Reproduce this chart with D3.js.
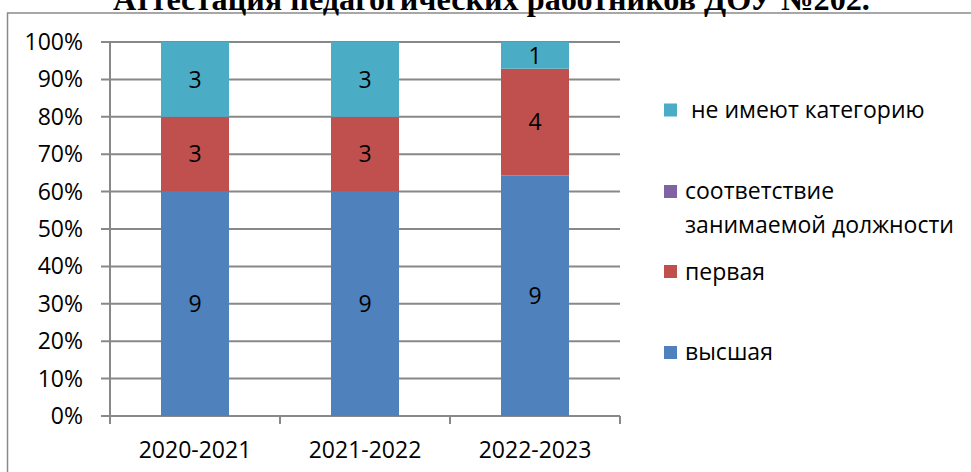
<!DOCTYPE html>
<html><head><meta charset="utf-8">
<script src="https://cdn.jsdelivr.net/npm/d3@7"></script>
<style>html,body{margin:0;padding:0;background:#fff;}svg{display:block;}</style>
</head><body>
<svg id="chart" width="971" height="472"></svg>
<script>
const title = "Аттестация педагогических работников ДОУ №202.";
const categories = ["2020-2021", "2021-2022", "2022-2023"];
const seriesNames = ["высшая", "первая", "соответствие занимаемой должности", "не имеют категорию"];
const vysshaya = [9, 9, 9];
const pervaya = [3, 3, 4];
const sootvetstvie = [0, 0, 0];
const neImeyut = [3, 3, 1];
const yTicks = [0, 0.1, 0.2, 0.3, 0.4, 0.5, 0.6, 0.7, 0.8, 0.9, 1];
const colors = ["#4F81BD", "#C0504D", "#8064A2", "#4BACC6"];

const rows = categories.map((c, i) => ({
  cat: c, s0: vysshaya[i], s1: pervaya[i], s2: sootvetstvie[i], s3: neImeyut[i]
}));
const keys = ["s0", "s1", "s2", "s3"];
const stacked = d3.stack().keys(keys).offset(d3.stackOffsetExpand)(rows);

const svg = d3.select("#chart");
const font = "'Open Sans', sans-serif";
const gridColor = "#888888";

// chart border
svg.append("rect").attr("x", 7.5).attr("y", 13).attr("width", 1000).attr("height", 500)
  .attr("fill", "none").attr("stroke", "#8a8a8a").attr("stroke-width", 1.5);

// title (cut at top, as in the reference)
const t = svg.append("text").attr("x", 491.5).attr("y", 10)
  .attr("text-anchor", "middle").attr("font-family", "'Liberation Serif', 'Times New Roman', serif")
  .attr("font-weight", "bold").attr("font-size", 30).attr("fill", "#000").text(title);
const w = t.node().getComputedTextLength();
t.attr("font-size", 30 * 757 / w);

const x = d3.scaleBand().domain(categories).range([110, 620]).padding(0);
const y = d3.scaleLinear().domain([0, 1]).range([416, 42]);
const barW = x.bandwidth() * 0.4;

// gridlines
svg.append("g").selectAll("line").data(yTicks).join("line")
  .attr("x1", 101).attr("x2", 620)
  .attr("y1", d => y(d)).attr("y2", d => y(d))
  .attr("stroke", gridColor).attr("stroke-width", 2);

// y axis line
svg.append("line").attr("x1", 110).attr("x2", 110).attr("y1", y(1)).attr("y2", 424)
  .attr("stroke", gridColor).attr("stroke-width", 2);

// x ticks
const xb = categories.map(c => x(c)).concat([x(categories[categories.length - 1]) + x.bandwidth()]);
svg.append("g").selectAll("line").data(xb.slice(1)).join("line")
  .attr("x1", d => d).attr("x2", d => d).attr("y1", 416).attr("y2", 424)
  .attr("stroke", gridColor).attr("stroke-width", 2);

// y labels
svg.append("g").selectAll("text").data(yTicks).join("text")
  .attr("x", 83).attr("y", d => y(d)).attr("dy", "0.35em")
  .attr("text-anchor", "end").attr("font-family", font).attr("font-size", 23).attr("fill", "#000")
  .text(d => Math.round(d * 100) + "%");

// x labels
svg.append("g").selectAll("text").data(categories).join("text")
  .attr("x", d => x(d) + x.bandwidth() / 2).attr("y", 458)
  .attr("text-anchor", "middle").attr("font-family", font).attr("font-size", 23).attr("fill", "#000")
  .text(d => d);

// bars
stacked.forEach((layer, li) => {
  const g = svg.append("g");
  g.selectAll("rect").data(layer).join("rect")
    .attr("x", d => x(d.data.cat) + (x.bandwidth() - barW) / 2)
    .attr("width", barW)
    .attr("y", d => y(d[1]))
    .attr("height", d => y(d[0]) - y(d[1]))
    .attr("fill", colors[li]);
  g.selectAll("text").data(layer.filter(d => d.data[keys[li]] > 0)).join("text")
    .attr("x", d => x(d.data.cat) + x.bandwidth() / 2)
    .attr("y", d => (y(d[0]) + y(d[1])) / 2).attr("dy", "0.36em")
    .attr("text-anchor", "middle").attr("font-family", font).attr("font-size", 23).attr("fill", "#000")
    .text(d => d.data[keys[li]]);
});

// legend
const legend = [
  { i: 3, cy: 110, lines: [" не имеют категорию"], base: [118] },
  { i: 2, cy: 191.5, lines: ["соответствие", "занимаемой должности"], base: [199, 233] },
  { i: 1, cy: 271.5, lines: ["первая"], base: [280] },
  { i: 0, cy: 352.5, lines: ["высшая"], base: [360] }
];
const lg = svg.append("g");
legend.forEach(item => {
  lg.append("rect").attr("x", 664).attr("y", item.cy - 6.5).attr("width", 13).attr("height", 13)
    .attr("fill", colors[item.i]);
  item.lines.forEach((ln, k) => {
    lg.append("text").attr("x", 685).attr("y", item.base[k])
      .attr("font-family", font).attr("font-size", 23).attr("fill", "#000")
      .style("white-space", "pre").text(ln);
  });
});
</script>
</body></html>
